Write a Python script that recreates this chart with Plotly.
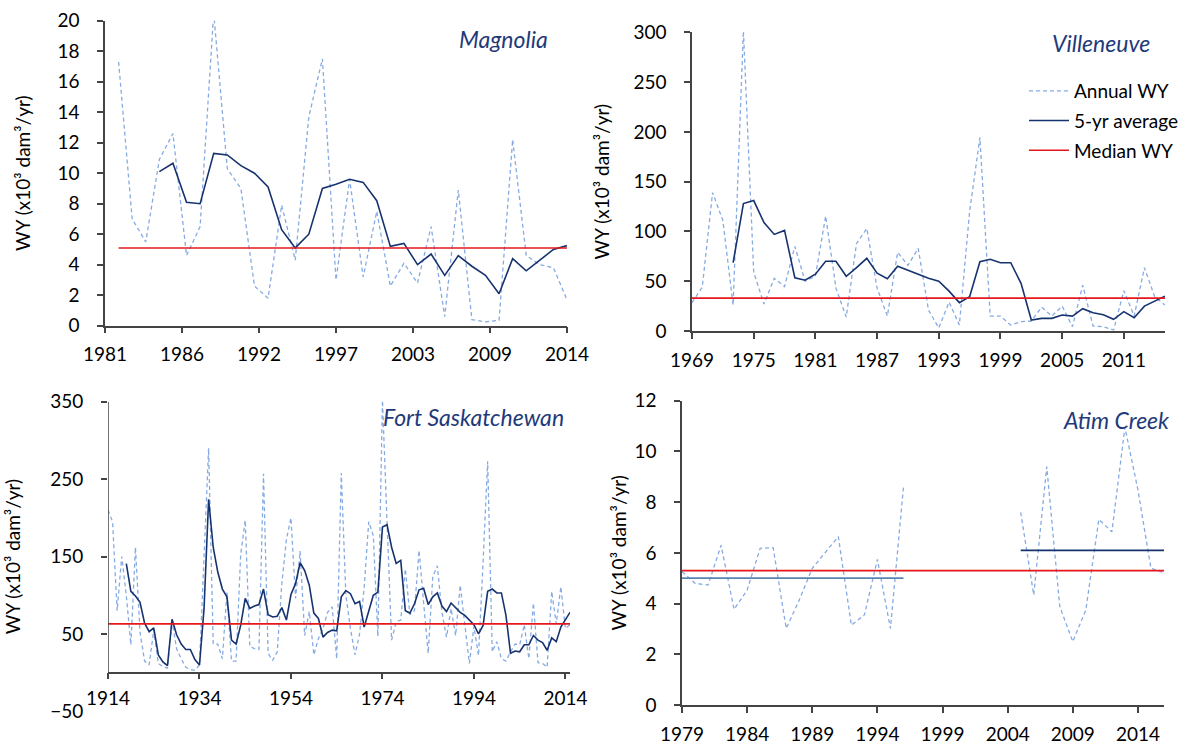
import numpy as np
import plotly.graph_objects as go

# ---------------- data ----------------
# Magnolia
mag_years = list(range(1981, 2015))
mag_annual = [17.3, 7.0, 5.5, 10.9, 12.6, 4.6, 6.5, 20.5, 10.3, 9.0,
              2.6, 1.8, 7.9, 4.3, 13.7, 17.5, 3.0, 9.6, 3.2, 7.5,
              2.6, 4.1, 2.8, 6.5, 0.6, 8.9, 0.4, 0.25, 0.35, 12.2,
              4.6, 4.0, 3.8, 1.7]
mag_avg_years = list(range(1984, 2015))
mag_avg = [10.1, 10.65, 8.1, 8.0, 11.3, 11.2, 10.5, 10.0, 9.1, 6.3,
           5.1, 6.0, 9.0, 9.27, 9.6, 9.4, 8.2, 5.2, 5.4, 4.0,
           4.7, 3.3, 4.6, 3.9, 3.3, 2.1, 4.4, 3.6, 4.3, 5.0, 5.25]
mag_median = 5.1
mag_ticktext = ["1981", "1986", "1992", "1997", "2003", "2009", "2014"]

# Villeneuve
vil_years = list(range(1969, 2016))
vil_annual = [28.5, 44, 139, 111, 26, 302, 59, 27, 53, 44.5,
              85, 50, 55, 115.5, 43, 14, 88, 103, 43, 15,
              79, 66, 83, 21, 3, 29, 6, 120, 194.5, 15,
              15, 6, 9.4, 10, 24, 15, 25, 4.4, 46, 5,
              4.4, 1, 40.5, 15, 63.6, 34.5, 26]
vil_avg_years = list(range(1973, 2016))
vil_avg = [68.6, 128, 131, 109, 97, 101, 53.5, 51, 57, 70,
           70, 55, 63.6, 73, 58, 52.5, 65, 61, 57, 53,
           50, 40, 28.5, 34.5, 69.6, 72, 68.6, 68.6, 47.9, 11,
           12.7, 12.7, 16, 15, 22.4, 18.4, 16.4, 11.7, 19.4, 13.4,
           25, 30, 35]
vil_median = 33
vil_ticks = list(range(1969, 2012, 6))

# Fort Saskatchewan
fort_years = list(range(1914, 2016))
fort_annual = [210, 195, 80, 150, 100, 36, 162, 52, 15, 10,
               55, 12, 8, 6, 67, 31, 18, 7, 4, 3,
               10, 160, 290, 37, 37, 18, 104, 15, 15, 152,
               197, 34, 31, 30, 257, 25, 16, 27, 115, 172,
               200, 96, 157, 48, 79, 23, 44, 57, 78, 85,
               18, 258, 100, 57, 23, 50, 110, 195, 177, 47,
               352, 195, 42, 66, 68, 134, 75, 80, 158, 90,
               25, 124, 138, 78, 46, 83, 48, 113, 61, 12,
               60, 22, 143, 273, 27, 40, 18, 15, 27, 37,
               36, 62, 18, 90, 13, 12, 7, 105, 63, 111,
               57, 62]
fort_avg_years = list(range(1918, 2016))
fort_avg = [141, 105, 99, 91, 64, 53, 58, 23, 14, 9,
            69, 49, 37, 30, 30, 17, 10, 83, 224, 162,
            130, 108, 98, 42, 37, 61, 96, 83, 86, 88,
            108, 75, 72, 73, 84, 68, 101, 115, 142, 132,
            113, 77, 70, 46, 52, 55, 54, 98, 106, 102,
            89, 92, 59, 80, 100, 104, 188, 191, 162, 141,
            145, 80, 77, 89, 107, 109, 88, 98, 103, 86,
            79, 90, 84, 78, 74, 68, 62, 50, 61, 105,
            108, 103, 103, 74, 25, 28, 27, 36, 36, 48,
            42, 39, 29, 45, 40, 59, 68, 78]
fort_median = 63
fort_ticks = list(range(1914, 2015, 20))
fort_yticks = [-50, 50, 150, 250, 350]

# Atim Creek
atim_years = list(range(1979, 2017))
atim_annual = [5.26, 4.8, 4.73, 6.3, 3.77, 4.53, 6.18, 6.2, 3.02, 4.14,
               5.39, 6.0, 6.64, 3.15, 3.55, 5.74, 3.02, 8.58,
               None, None, None, None, None, None, None, None,
               7.6, 4.34, 9.4, 3.88, 2.5, 3.75, 7.32, 6.83, 10.95, 8.48,
               5.39, 5.22]
atim_period_start = [1979, 2005]
atim_period_end = [1996, 2016]
atim_period_avg = [5.0, 6.1]
atim_median = 5.3
atim_ticks = list(range(1979, 2015, 5))

# ---------------- styles ----------------
W, H = 1187, 749
C_ANN = "#86abe2"
C_AVG = "#17336f"
C_AVG2 = "#5b84b1"
C_MED = "#e5171c"
FONT = "Lato"
AX = "#444444"
DASH = "4px,3px"

def px_x(a, b):
    return [a / W, b / W]

def px_y(top, bottom):
    return [1 - bottom / H, 1 - top / H]

fig = go.Figure()

def add_panel(xa, ya, years, annual, avg_years, avg, median, legend=False, med_axes=None):
    fig.add_trace(go.Scatter(x=years, y=annual, mode="lines", name="Annual WY",
                             line=dict(color=C_ANN, width=1.3, dash=DASH),
                             xaxis=xa, yaxis=ya, showlegend=legend, legendgroup="a",
                             connectgaps=False))
    fig.add_trace(go.Scatter(x=avg_years, y=avg, mode="lines", name="5-yr average",
                             line=dict(color=C_AVG, width=1.6), legendgroup="b",
                             xaxis=xa, yaxis=ya, showlegend=legend))
    mx, my = med_axes if med_axes else (xa, ya)
    fig.add_trace(go.Scatter(x=[years[0], years[-1]], y=[median, median], mode="lines",
                             name="Median WY", line=dict(color=C_MED, width=1.6),
                             legendgroup="c",
                             xaxis=mx, yaxis=my, showlegend=legend))

add_panel("x", "y", mag_years, mag_annual, mag_avg_years, mag_avg, mag_median)
add_panel("x2", "y2", vil_years, vil_annual, vil_avg_years, vil_avg, vil_median, legend=True)
add_panel("x3", "y3", fort_years, fort_annual, fort_avg_years, fort_avg, fort_median,
          med_axes=("x5", "y3"))
# Atim Creek
fig.add_trace(go.Scatter(x=atim_years, y=atim_annual, mode="lines", name="Annual WY",
                         line=dict(color=C_ANN, width=1.3, dash=DASH),
                         xaxis="x4", yaxis="y4", showlegend=False, connectgaps=False))
fig.add_trace(go.Scatter(x=[atim_years[0], atim_years[-1]], y=[atim_median, atim_median],
                         mode="lines", name="Median WY", line=dict(color=C_MED, width=1.6),
                         xaxis="x4", yaxis="y4", showlegend=False))
for s, e, v, c in zip(atim_period_start, atim_period_end, atim_period_avg, [C_AVG2, C_AVG]):
    fig.add_trace(go.Scatter(x=[s, e], y=[v, v], mode="lines", name="Period average",
                             line=dict(color=c, width=1.8),
                             xaxis="x4", yaxis="y4", showlegend=False))

tickfont = dict(family=FONT, size=19, color="black")
titlefont = dict(family=FONT, size=19, color="black")
ytitle = "WY (x10³ dam³/yr)"

def xax(domain, anchor, rng, tickvals, ticktext=None, **kw):
    d = dict(domain=domain, anchor=anchor, range=rng, tickmode="array", automargin=False,
             tickvals=tickvals, ticktext=ticktext if ticktext else [str(t) for t in tickvals],
             showgrid=False, zeroline=False, showline=True, linecolor=AX, linewidth=1.5,
             ticks="outside", ticklen=6, tickwidth=1.5, tickcolor=AX, tickfont=tickfont,
             ticklabelstandoff=5)
    d.update(kw)
    return d

def yax(domain, anchor, rng, dtick=None, tickvals=None, standoff=20, **kw):
    d = dict(domain=domain, anchor=anchor, range=rng, showgrid=False, zeroline=False,
             automargin=False, ticklabelstandoff=14,
             showline=True, linecolor=AX, linewidth=1.5, ticks="outside", ticklen=6,
             tickwidth=1.5, tickcolor=AX, tickfont=tickfont,
             title=dict(text=ytitle, font=titlefont, standoff=standoff))
    if tickvals is not None:
        d.update(tickmode="array", tickvals=tickvals)
    else:
        d.update(dtick=dtick, tick0=0)
    d.update(kw)
    return d

mag_xd = px_x(105, 567)
mag_yd = px_y(20.7, 325.7)
vil_xd = px_x(692, 1165)
vil_yd = px_y(32.3, 331)
fort_xd = px_x(108, 570)
fort_yd = px_y(401.7, 711.4)
atim_xd = px_x(682, 1164)
atim_yd = px_y(400.7, 705)

fort_rng = [-50, 350]
zero_pos = fort_yd[0] + (0 - fort_rng[0]) / (fort_rng[1] - fort_rng[0]) * (fort_yd[1] - fort_yd[0])

fig.update_layout(
    width=W, height=H, margin=dict(l=0, r=0, t=0, b=0, autoexpand=False),
    paper_bgcolor="white", plot_bgcolor="white",
    font=dict(family=FONT, color="black"),
    xaxis=xax(mag_xd, "y", [1980, 2014], list(np.linspace(1980, 2014, 7)), mag_ticktext),
    yaxis=yax(mag_yd, "x", [0, 20], dtick=2, standoff=22),
    xaxis2=xax(vil_xd, "y2", [1969, 2015], vil_ticks),
    yaxis2=yax(vil_yd, "x2", [0, 300], dtick=50, standoff=19),
    xaxis3=xax(fort_xd, "y3", [1914, 2015], fort_ticks, showline=False, ticks="",
               ticklabelstandoff=-26),
    yaxis3=yax(fort_yd, "x3", fort_rng, tickvals=fort_yticks, standoff=24,
               showline=False, tickcolor="rgba(0,0,0,0)"),
    xaxis5=dict(overlaying="x3", anchor="free", position=zero_pos, range=[1914, 2015],
                tickmode="array", tickvals=fort_ticks, showticklabels=False, automargin=False,
                showgrid=False, zeroline=False, showline=True, linecolor=AX, linewidth=1.5,
                ticks="outside", ticklen=6, tickwidth=1.5, tickcolor=AX),
    yaxis6=dict(overlaying="y3", anchor="x3", range=fort_rng, tickmode="array",
                tickvals=[50, 150, 250, 350], showticklabels=False, showgrid=False,
                automargin=False,
                zeroline=False, showline=False, ticks="outside", ticklen=6,
                tickwidth=1.5, tickcolor=AX),
    xaxis4=xax(atim_xd, "y4", [1979, 2016], atim_ticks),
    yaxis4=yax(atim_yd, "x4", [0, 12], dtick=2, standoff=3),
    legend=dict(x=1024 / W, y=1 - 72 / H, xanchor="left", yanchor="top",
                font=dict(family=FONT, size=19, color="black"),
                bgcolor="rgba(0,0,0,0)", traceorder="grouped", tracegroupgap=2,
                itemwidth=40),
    showlegend=True,
)

# y-axis line of Fort Saskatchewan spans 0..350 only
fig.add_shape(type="line", xref="x3", yref="y3", x0=1914, x1=1914, y0=0, y1=fort_rng[1],
              line=dict(color=AX, width=1.5))
# invisible trace registering the tick-overlay axis
fig.add_trace(go.Scatter(x=[1914], y=[fort_median], mode="lines", xaxis="x3", yaxis="y6",
                         showlegend=False, hoverinfo="skip", line=dict(width=0)))

titles = [("Magnolia", 550, 39), ("Villeneuve", 1152, 43),
          ("Fort Saskatchewan", 566, 417), ("Atim Creek", 1172, 420)]
for t, xr, yc in titles:
    fig.add_annotation(text=t, xref="paper", yref="paper", x=xr / W, y=1 - yc / H,
                       xanchor="right", yanchor="middle", showarrow=False,
                       font=dict(family=FONT, size=23, color="#1f3a7a", style="italic"))

fig.write_html("out.html")
